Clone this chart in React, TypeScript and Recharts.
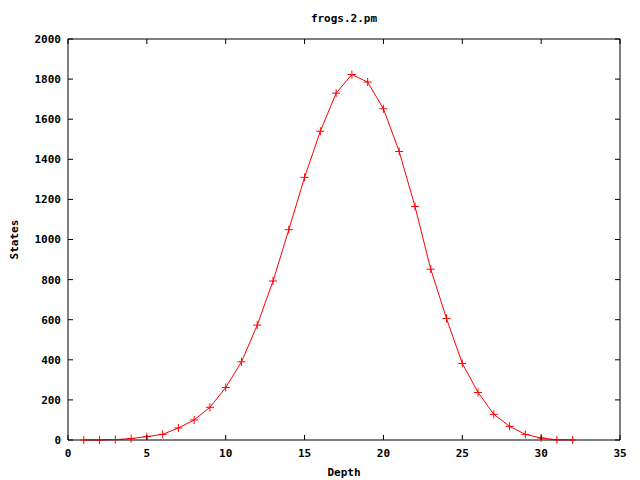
import { LineChart, Line, XAxis, YAxis } from 'recharts';

const depth = [1, 2, 3, 4, 5, 6, 7, 8, 9, 10, 11, 12, 13, 14, 15, 16, 17, 18, 19, 20, 21, 22, 23, 24, 25, 26, 27, 28, 29, 30, 31, 32];
const states = [0, 0, 2, 7, 17, 28, 60, 100, 163, 262, 390, 573, 793, 1049, 1310, 1540, 1730, 1823, 1785, 1652, 1439, 1165, 852, 606, 382, 237, 128, 68, 28, 10, 1, 0];

const xTicks = [0, 5, 10, 15, 20, 25, 30, 35];
const yTicks = [0, 200, 400, 600, 800, 1000, 1200, 1400, 1600, 1800, 2000];

const title = 'frogs.2.pm';
const xLabel = 'Depth';
const yLabel = 'States';

const data = depth.map((d, i) => ({ depth: d, states: states[i] }));

// plot box (gnuplot-like layout)
const W = 640;
const H = 480;
const LEFT = 68;
const RIGHT = 620;
const TOP = 39;
const BOTTOM = 440;
const TICK = 5;

const FONT = '"DejaVu Sans Mono", monospace';
const txt = { fontFamily: FONT, fontSize: 11, fontWeight: 'bold' as const, fill: '#000' };
const axisLine = { stroke: '#000', strokeWidth: 1 };

// gnuplot style "+" marker
const PlusDot = (props: any) => {
    const { cx, cy } = props;
    if (cx == null || cy == null) return null;
    return (
        <path
            d={`M${cx - 4},${cy}H${cx + 4}M${cx},${cy - 4}V${cy + 4}`}
            stroke="#ff0000"
            strokeWidth={1}
            fill="none"
        />
    );
};

// ticks point into the plot, like gnuplot
const BottomTick = (props: any) => {
    const { x, payload } = props;
    return (
        <g>
            <line x1={x} x2={x} y1={BOTTOM} y2={BOTTOM - TICK} stroke="#000" />
            <text x={x} y={BOTTOM + 17} textAnchor="middle" {...txt}>{payload.value}</text>
        </g>
    );
};

const TopTick = (props: any) => {
    const { x } = props;
    return <line x1={x} x2={x} y1={TOP} y2={TOP + TICK} stroke="#000" />;
};

const LeftTick = (props: any) => {
    const { y, payload } = props;
    return (
        <g>
            <line x1={LEFT} x2={LEFT + TICK} y1={y} y2={y} stroke="#000" />
            <text x={LEFT - 7} y={y} dy="0.36em" textAnchor="end" {...txt}>{payload.value}</text>
        </g>
    );
};

const RightTick = (props: any) => {
    const { y } = props;
    return <line x1={RIGHT} x2={RIGHT - TICK} y1={y} y2={y} stroke="#000" />;
};

export default function App() {
    const cx = (LEFT + RIGHT) / 2;
    const cy = (TOP + BOTTOM) / 2;
    return (
        <div style={{ position: 'absolute', left: 0, top: 0, width: W, height: H, background: '#fff' }}>
            <LineChart width={W} height={H} data={data} margin={{ top: TOP - 1, right: W - RIGHT - 1, bottom: 0, left: 0 }}>
                <XAxis
                    xAxisId="b"
                    dataKey="depth"
                    type="number"
                    domain={[0, 35]}
                    ticks={xTicks}
                    height={H - BOTTOM}
                    tick={<BottomTick />}
                    tickLine={false}
                    axisLine={axisLine}
                    label={{
                        content: () => (
                            <text x={cx} y={476} textAnchor="middle" {...txt}>{xLabel}</text>
                        ),
                    }}
                />
                <XAxis
                    xAxisId="t"
                    dataKey="depth"
                    orientation="top"
                    type="number"
                    domain={[0, 35]}
                    ticks={xTicks}
                    height={1}
                    tick={<TopTick />}
                    tickLine={false}
                    axisLine={axisLine}
                    label={{
                        content: () => (
                            <text x={cx} y={22} textAnchor="middle" {...txt}>{title}</text>
                        ),
                    }}
                />
                <YAxis
                    yAxisId="l"
                    type="number"
                    domain={[0, 2000]}
                    ticks={yTicks}
                    width={LEFT}
                    tick={<LeftTick />}
                    tickLine={false}
                    axisLine={axisLine}
                    label={{
                        content: () => (
                            <text x={14} y={cy} textAnchor="middle" dy="0.36em" transform={`rotate(-90 14 ${cy})`} {...txt}>{yLabel}</text>
                        ),
                    }}
                />
                <YAxis
                    yAxisId="r"
                    orientation="right"
                    type="number"
                    domain={[0, 2000]}
                    ticks={yTicks}
                    width={1}
                    tick={<RightTick />}
                    tickLine={false}
                    axisLine={axisLine}
                />
                {/* invisible series so the mirrored top/right axes get drawn */}
                <Line
                    xAxisId="t"
                    yAxisId="r"
                    dataKey="states"
                    stroke="none"
                    dot={false}
                    activeDot={false}
                    isAnimationActive={false}
                />
                <Line
                    xAxisId="b"
                    yAxisId="l"
                    dataKey="states"
                    type="linear"
                    stroke="#ff0000"
                    strokeWidth={1}
                    dot={<PlusDot />}
                    activeDot={false}
                    isAnimationActive={false}
                />
            </LineChart>
        </div>
    );
}
